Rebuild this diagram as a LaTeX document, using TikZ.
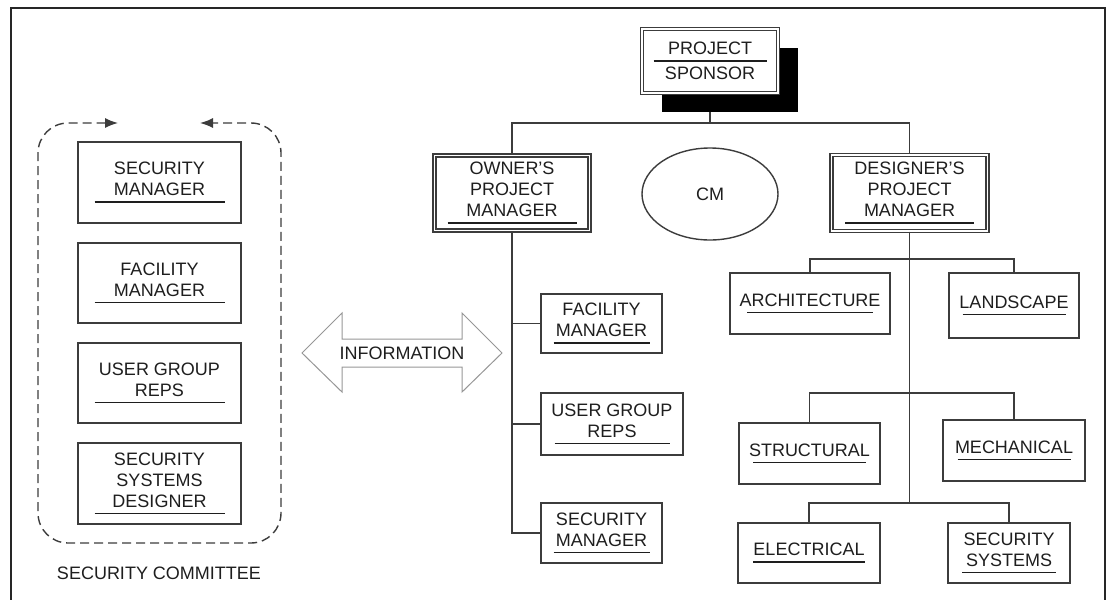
\documentclass[tikz,border=0pt]{standalone}
\usepackage{fontspec}
\setmainfont{Liberation Sans}
\usetikzlibrary{shapes.geometric,shadows,arrows.meta,backgrounds}
\definecolor{line-color}{RGB}{60,60,60}
\definecolor{text-color}{RGB}{30,30,30}
\definecolor{info-color}{RGB}{150,150,150}
\newcommand{\ubar}[1]{\\[-14pt]\rule{#1}{1.3pt}}
\tikzset{
    box/.style={draw=line-color, line width=1.4pt, fill=white, align=center,
        inner xsep=3pt, inner ysep=0pt, text=text-color,
        font=\fontsize{18}{21}\selectfont},
    dbox/.style={box, double, double distance=1.8pt, line width=1.4pt},
    link/.style={draw=line-color, line width=1.3pt},
    caption/.style={text=text-color, font=\fontsize{18}{21}\selectfont}
}

\begin{document}
\begin{tikzpicture}[x=1pt, y=-1pt]
    \useasboundingbox (0,0) rectangle (1109,600);
    \draw[line width=1.8pt, black!85] (11,600) -- (11,8) -- (1105,8) -- (1105,600);

    % security committee
    \node[box, minimum width=163, minimum height=81] (sm1) at (159.5,182.5) {SECURITY\\MANAGER\ubar{130pt}};
    \node[box, minimum width=163, minimum height=80] (fm1) at (159.5,283) {FACILITY\\MANAGER\ubar{130pt}};
    \node[box, minimum width=163, minimum height=80] (ug1) at (159.5,383) {USER GROUP\\REPS\ubar{130pt}};
    \node[box, minimum width=163, minimum height=81] (ssd) at (159.5,483.5) {SECURITY\\SYSTEMS\\DESIGNER\ubar{130pt}};
    \draw[line-color, line width=1.4pt, dash pattern=on 9pt off 5pt, rounded corners=30pt,
        {Latex[length=13pt,width=10pt]}-{Latex[length=13pt,width=10pt]}]
        (118,123) -- (38,123) -- (38,543) -- (281,543) -- (281,123) -- (200,123);
    \node[caption] (committee) at (159,573) {SECURITY COMMITTEE};

    \draw[info-color, line width=1pt] (302,353) -- (342,313) -- (342,339) -- (462,339) -- (462,313)
        -- (502,353) -- (462,392) -- (462,367) -- (342,367) -- (342,392) -- cycle;
    \node[caption] (info) at (402,353) {INFORMATION};

    % project team
    \node[dbox, minimum width=136, minimum height=64,
        drop shadow={shadow xshift=20pt, shadow yshift=-19pt, fill=black, opacity=1}]
        (sponsor) at (710,61) {PROJECT\\[-14pt]\rule{113pt}{1.3pt}\\[-3pt]SPONSOR};
    \node[dbox, minimum width=155, minimum height=75] (owner) at (512,193) {OWNER'S\\PROJECT\\MANAGER\ubar{129pt}};
    \node[box, ellipse, minimum width=136, minimum height=92, inner sep=0pt] (cm) at (710,194) {CM};
    \node[dbox, minimum width=156, minimum height=76] (designer) at (909.5,193) {DESIGNER'S\\PROJECT\\MANAGER\ubar{129pt}};

    \node[box, minimum width=121, minimum height=59] (fm2) at (601.5,323.5) {FACILITY\\MANAGER\ubar{96pt}};
    \node[box, minimum width=142, minimum height=62] (ug2) at (612,424) {USER GROUP\\REPS\ubar{115pt}};
    \node[box, minimum width=121, minimum height=60] (sm2) at (601.5,533) {SECURITY\\MANAGER\ubar{96pt}};

    \node[box, minimum width=160, minimum height=61] (arch) at (810,303.5) {ARCHITECTURE\ubar{126pt}};
    \node[box, minimum width=130, minimum height=65] (land) at (1014,305.5) {LANDSCAPE\ubar{103pt}};
    \node[box, minimum width=141, minimum height=61] (struct) at (809.5,453.5) {STRUCTURAL\ubar{113pt}};
    \node[box, minimum width=142, minimum height=61] (mech) at (1014,450.5) {MECHANICAL\ubar{113pt}};
    \node[box, minimum width=142, minimum height=60] (elec) at (809,553) {ELECTRICAL\ubar{112pt}};
    \node[box, minimum width=122, minimum height=60] (secsys) at (1009,553) {SECURITY\\SYSTEMS\ubar{94pt}};

    \coordinate (top) at (710,123);
    \coordinate (j1) at (909.5,259);
    \coordinate (j2) at (909.5,393);
    \coordinate (j3) at (909.5,503);

    \begin{scope}[on background layer]
        \draw[link] (sponsor.south) -- (top);
    \end{scope}
    \draw[link] (owner.north) |- (top) -| (designer.north);
    \draw[link] (owner.south) |- (fm2.west);
    \draw[link] (owner.south) |- (ug2.west);
    \draw[link] (owner.south) |- (sm2.west);

    \draw[link] (designer.south) -- (j3);
    \draw[link] (arch.north) |- (j1) -| (land.north);
    \draw[link] (struct.north) |- (j2) -| (mech.north);
    \draw[link] (elec.north) |- (j3) -| (secsys.north);
\end{tikzpicture}
\end{document}
